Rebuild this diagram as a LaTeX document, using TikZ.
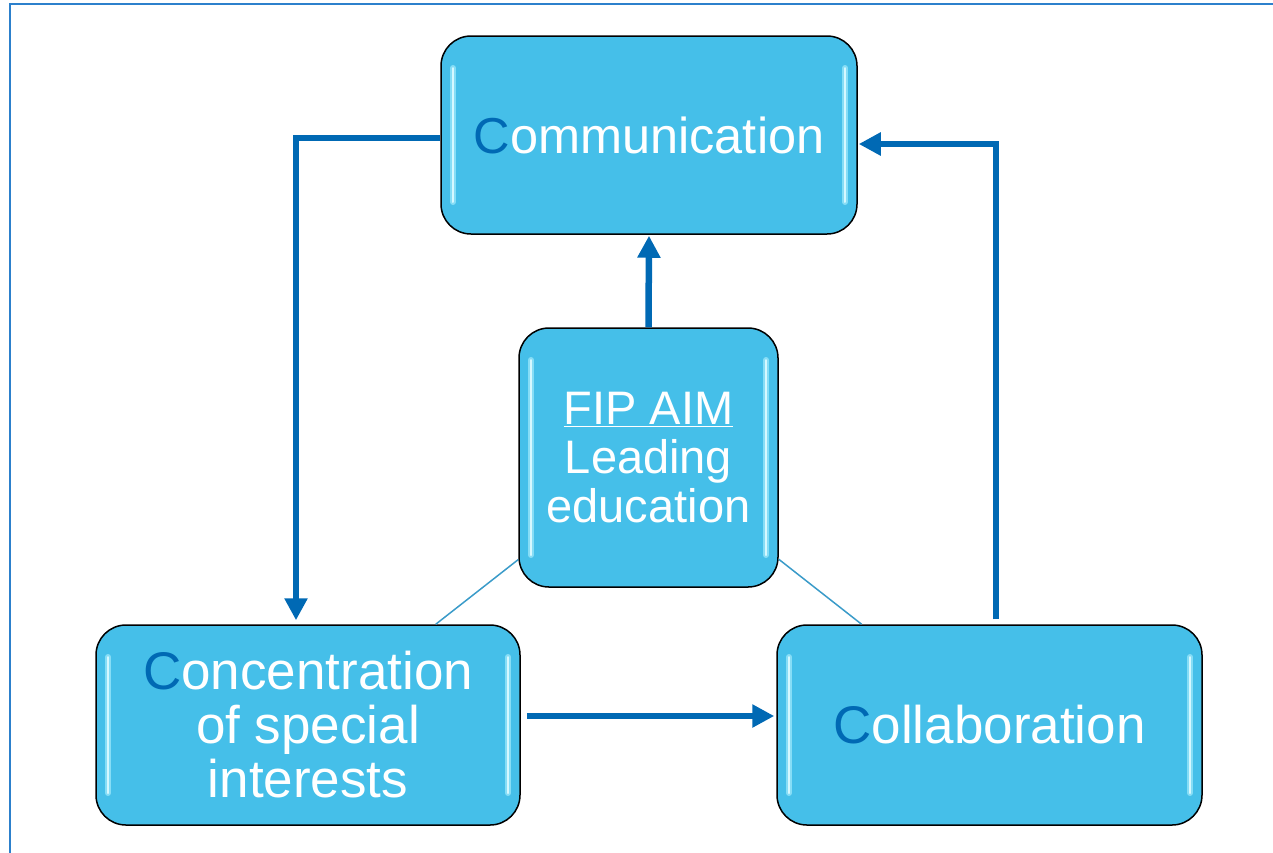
\documentclass[tikz,border=0pt]{standalone}
\usepackage{fontspec}
\setmainfont{Liberation Sans}
\usetikzlibrary{arrows.meta}
\definecolor{boxfill}{HTML}{45BFE9}
\definecolor{cblue}{HTML}{0069B4}
\definecolor{thinblue}{HTML}{3A9BC9}
\definecolor{framecol}{HTML}{2C80CC}
\definecolor{glintcol}{HTML}{D6F8FF}
\definecolor{glowcol}{HTML}{86DDF6}
\tikzset{
  glint/.style={draw=glintcol, line width=2pt, line cap=round},
  glow/.style={draw=glowcol, line width=6pt, line cap=round},
  box/.style={draw=black, line width=1.5pt, fill=boxfill, rounded corners=30pt,
    text=white, align=center, inner sep=0pt,
    font=\fontsize{53}{54}\selectfont,
    path picture={
      \draw[glow] ([xshift=12pt,yshift=-32pt]path picture bounding box.north west) -- ([xshift=12pt,yshift=32pt]path picture bounding box.south west);
      \draw[glow] ([xshift=-12pt,yshift=-32pt]path picture bounding box.north east) -- ([xshift=-12pt,yshift=32pt]path picture bounding box.south east);
      \draw[glint] ([xshift=12pt,yshift=-32pt]path picture bounding box.north west) -- ([xshift=12pt,yshift=32pt]path picture bounding box.south west);
      \draw[glint] ([xshift=-12pt,yshift=-32pt]path picture bounding box.north east) -- ([xshift=-12pt,yshift=32pt]path picture bounding box.south east);
    }},
  conn/.style={draw=cblue, line width=6.5pt, -{Triangle[length=22pt,width=22pt]}},
  link/.style={draw=thinblue, line width=1.5pt}
}
\begin{document}
\begin{tikzpicture}[x=1pt,y=1pt]
\useasboundingbox (0,0) rectangle (1273,-852);
\draw[framecol, line width=2.5pt] (10,-860) -- (10,-4) -- (1280,-4);
\node[box, minimum width=416pt, minimum height=198pt, font=\fontsize{50.5}{52}\selectfont] (comm) at (649,-135) {{\color{cblue}C}ommunication};
\node[box, minimum width=259pt, minimum height=259pt, font=\fontsize{47}{49}\selectfont] (fip) at (648.5,-457.5) {\underline{FIP AIM}\\Leading\\education};
\node[box, minimum width=424pt, minimum height=200pt] (conc) at (308,-725) {{\color{cblue}C}oncentration\\of special\\interests};
\node[box, minimum width=425pt, minimum height=200pt] (coll) at (989.5,-725) {{\color{cblue}C}ollaboration};
\draw[link] (fip) -- (conc);
\draw[link] (fip) -- (coll);
\draw[conn, shorten >=4pt] ([yshift=-3pt]comm.west) -| ([xshift=-12pt]conc.north);
\draw[conn, shorten <=5pt, shorten >=1pt] ([xshift=6.5pt]coll.north) |- ([yshift=-9pt]comm.east);
\draw[conn, shorten >=1pt] (fip.north) -- (comm.south);
\draw[conn, shorten <=6pt, shorten >=2pt] ([yshift=9pt]conc.east) -- ([yshift=9pt]coll.west);
\end{tikzpicture}
\end{document}
